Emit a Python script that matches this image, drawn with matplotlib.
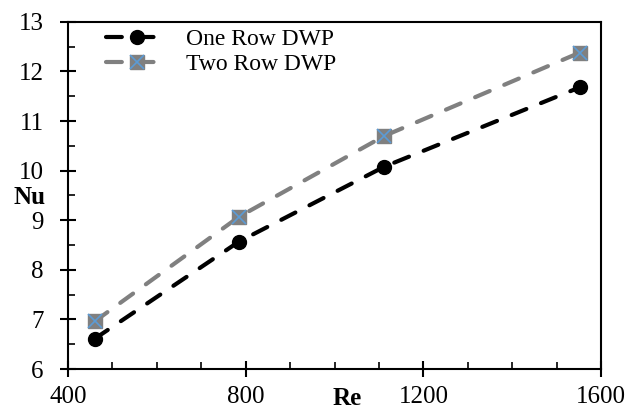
import matplotlib
matplotlib.use("Agg")
import matplotlib.pyplot as plt
from matplotlib.legend_handler import HandlerTuple
from matplotlib.ticker import MultipleLocator

plt.rcParams['font.family'] = ['Liberation Serif', 'DejaVu Serif']

# Reynolds number and Nusselt number for the two plate layouts
re = [460, 785, 1112, 1552]
nu_one_row = [6.61, 8.57, 10.08, 11.68]
nu_two_row = [6.96, 9.07, 10.70, 12.38]

fig = plt.figure(figsize=(6.41, 4.11), dpi=100)
ax = fig.add_axes([0.106, 0.102, 0.832, 0.845])

l1, = ax.plot(re, nu_one_row, color="black", lw=3, dashes=(3.8, 3.8),
              dash_capstyle="round", marker="o", ms=10, label="One Row DWP")
l2, = ax.plot(re, nu_two_row, color="#808080", lw=3, dashes=(3.8, 3.8),
              dash_capstyle="round", marker="s", ms=10, mec="#808080",
              label="Two Row DWP")
l2x, = ax.plot(re, nu_two_row, ls="none", marker="x", ms=10, mew=1.2,
               color="#5b9bd5")

ax.set_xlim(400, 1600)
ax.set_ylim(6, 13)
ax.xaxis.set_major_locator(MultipleLocator(400))
ax.xaxis.set_minor_locator(MultipleLocator(100))
ax.yaxis.set_major_locator(MultipleLocator(1))
ax.yaxis.set_minor_locator(MultipleLocator(0.5))
ax.tick_params(which="major", direction="inout", length=11, width=1.5,
               labelsize=18)
ax.tick_params(axis="x", which="major", pad=7)
ax.tick_params(axis="y", which="major", pad=12)
ax.tick_params(which="minor", direction="in", length=5, width=1.2)
for s in ax.spines.values():
    s.set_linewidth(1.5)

ax.set_xlabel("Re", fontsize=18, fontweight="bold")
ax.xaxis.set_label_coords(0.524, -0.085)
ax.xaxis.label.set_va("center")
ax.set_ylabel("Nu", fontsize=18, fontweight="bold", rotation=0)
ax.yaxis.set_label_coords(-0.073, 0.495)
ax.yaxis.label.set_va("center")

ax.legend([l1, (l2, l2x)], ["One Row DWP", "Two Row DWP"],
          handler_map={tuple: HandlerTuple(ndivide=1)},
          loc="upper left", bbox_to_anchor=(0.05, 1.015), frameon=False,
          fontsize=17, handlelength=2.6, handletextpad=0.75,
          labelspacing=0.15, numpoints=1, borderaxespad=0.1)

fig.savefig("out.png", dpi=100)
